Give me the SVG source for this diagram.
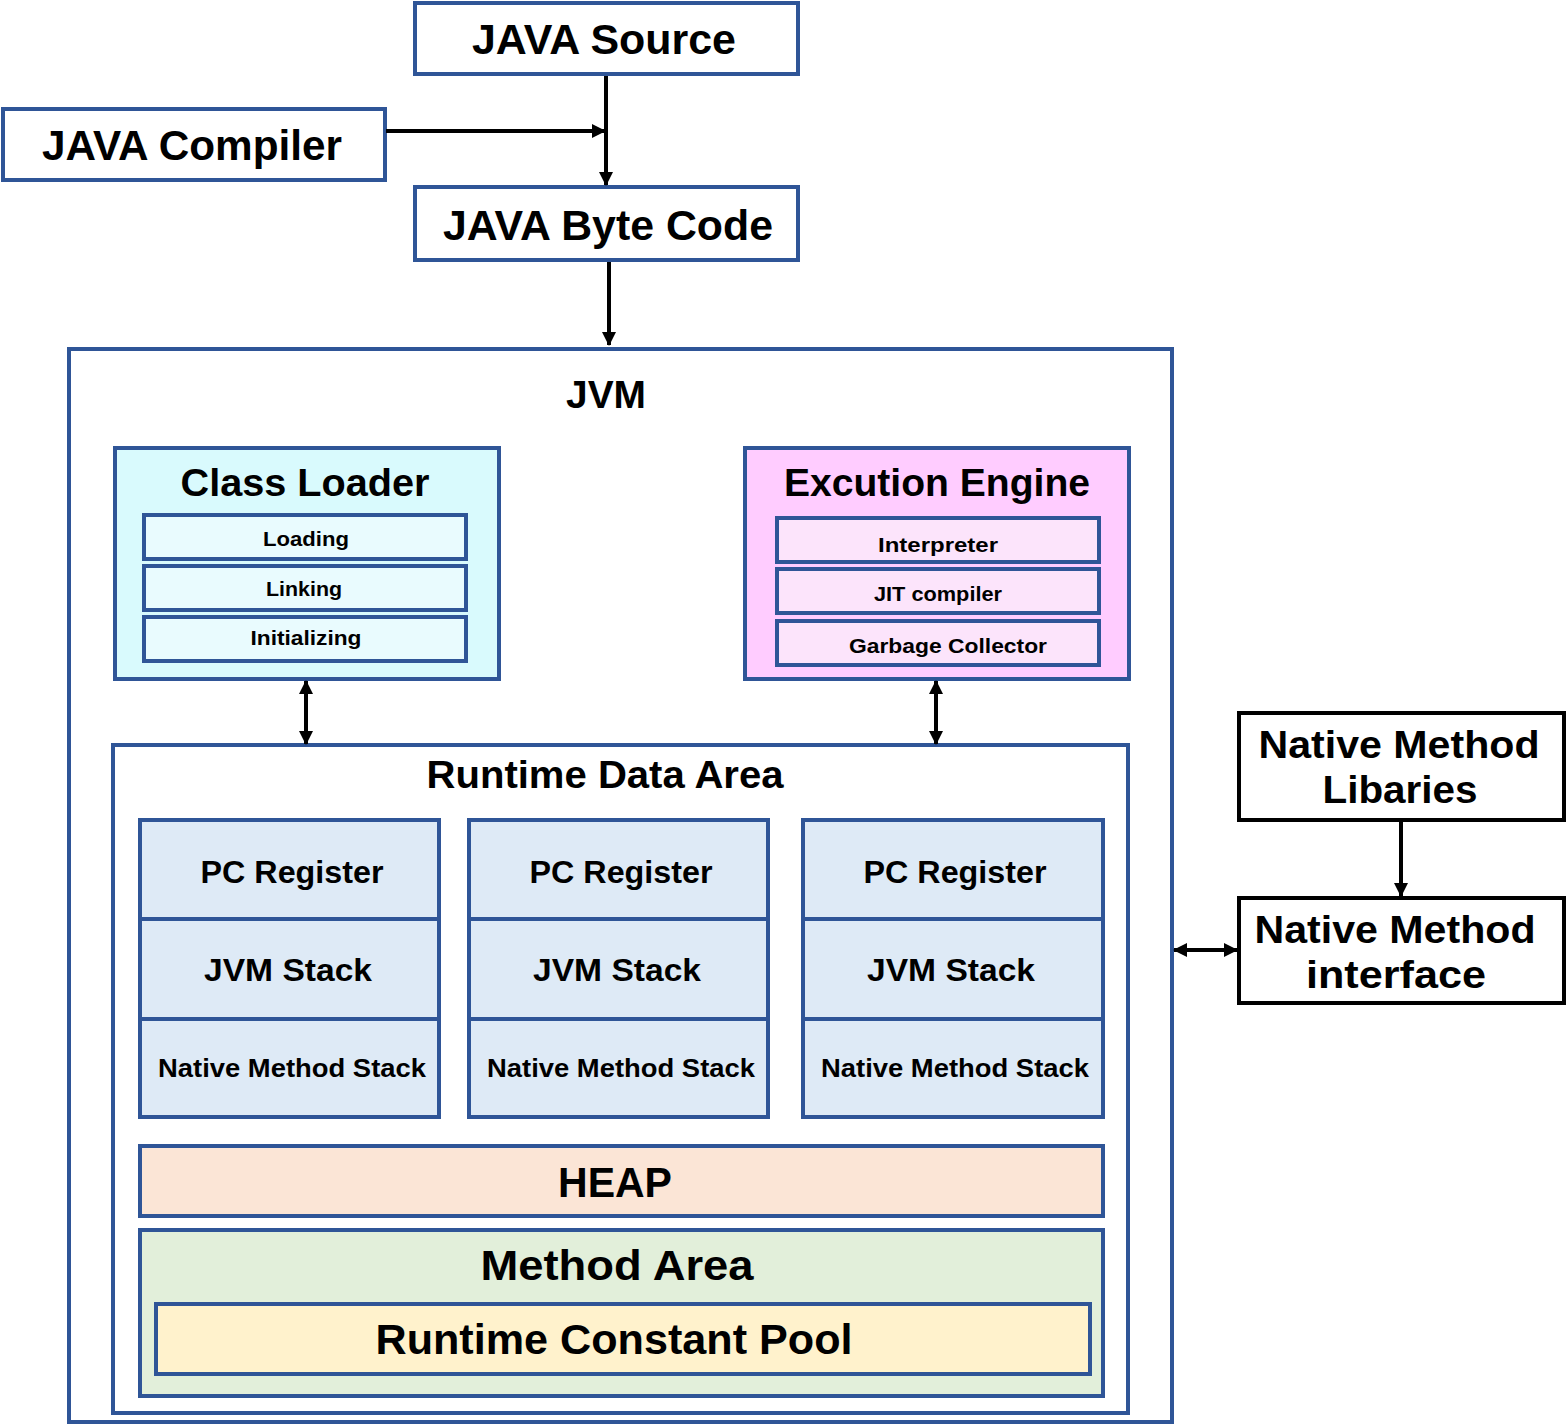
<svg xmlns="http://www.w3.org/2000/svg" width="1567" height="1426" viewBox="0 0 1567 1426">
<defs>
<style>
text{font-family:"Liberation Sans",Arial,sans-serif;font-weight:bold;fill:#000;text-anchor:middle}
.b{stroke:#2F5597;stroke-width:4}
.k{stroke:#000;stroke-width:4;fill:#fff}
.c{stroke:#000;stroke-width:4;fill:none}
.t40{font-size:42px}
.t38{font-size:39px}
.t30{font-size:31px}
.t25{font-size:26px}
.t20{font-size:21px}
</style>
<marker id="ah" viewBox="0 0 14 14" refX="13" refY="7" markerWidth="14" markerHeight="14" orient="auto-start-reverse" markerUnits="userSpaceOnUse">
<path d="M0,0 L14,7 L0,14 z" fill="#000"/>
</marker>
</defs>
<rect width="1567" height="1426" fill="#fff"/>

<g id="java-source">
<rect class="b" x="415" y="3" width="383" height="71" fill="#fff"/>
<text class="t40" x="604" y="54" textLength="264" lengthAdjust="spacingAndGlyphs">JAVA Source</text>
</g>
<g id="java-compiler">
<rect class="b" x="3" y="109" width="382" height="71" fill="#fff"/>
<text class="t40" x="192" y="160" textLength="300" lengthAdjust="spacingAndGlyphs">JAVA Compiler</text>
</g>
<g id="java-byte-code">
<rect class="b" x="415" y="187" width="383" height="73" fill="#fff"/>
<text class="t40" x="608" y="240" textLength="330" lengthAdjust="spacingAndGlyphs">JAVA Byte Code</text>
</g>

<g id="jvm">
<rect class="b" x="69" y="349" width="1103" height="1073" fill="#fff"/>
<text class="t38" x="606" y="408" textLength="80" lengthAdjust="spacingAndGlyphs">JVM</text>
</g>

<g id="class-loader">
<rect class="b" x="115" y="448" width="384" height="231" fill="#D9FAFD"/>
<text class="t38" x="305" y="496" textLength="249" lengthAdjust="spacingAndGlyphs">Class Loader</text>
<rect class="b" x="144" y="515" width="322" height="44" fill="#E9FBFE"/>
<text class="t20" x="306" y="546" textLength="86" lengthAdjust="spacingAndGlyphs">Loading</text>
<rect class="b" x="144" y="566" width="322" height="44" fill="#E9FBFE"/>
<text class="t20" x="304" y="596" textLength="76" lengthAdjust="spacingAndGlyphs">Linking</text>
<rect class="b" x="144" y="617" width="322" height="44" fill="#E9FBFE"/>
<text class="t20" x="306" y="645" textLength="111" lengthAdjust="spacingAndGlyphs">Initializing</text>
</g>

<g id="execution-engine">
<rect class="b" x="745" y="448" width="384" height="231" fill="#FFCCFF"/>
<text class="t38" x="937" y="496" textLength="306" lengthAdjust="spacingAndGlyphs">Excution Engine</text>
<rect class="b" x="777" y="518" width="322" height="44" fill="#FCE4FB"/>
<text class="t20" x="938" y="552" textLength="120" lengthAdjust="spacingAndGlyphs">Interpreter</text>
<rect class="b" x="777" y="569" width="322" height="44" fill="#FCE4FB"/>
<text class="t20" x="938" y="601" textLength="128" lengthAdjust="spacingAndGlyphs">JIT compiler</text>
<rect class="b" x="777" y="621" width="322" height="44" fill="#FCE4FB"/>
<text class="t20" x="948" y="653" textLength="198" lengthAdjust="spacingAndGlyphs">Garbage Collector</text>
</g>

<g id="runtime-data-area">
<rect class="b" x="113" y="745" width="1015" height="668" fill="#fff"/>
<text class="t38" x="605" y="788" textLength="357" lengthAdjust="spacingAndGlyphs">Runtime Data Area</text>
</g>

<g id="thread-1">
<rect class="b" x="140" y="820" width="299" height="99" fill="#DEEAF6"/>
<rect class="b" x="140" y="919" width="299" height="100" fill="#DEEAF6"/>
<rect class="b" x="140" y="1019" width="299" height="98" fill="#DEEAF6"/>
<text class="t30" x="292" y="883" textLength="183" lengthAdjust="spacingAndGlyphs">PC Register</text>
<text class="t30" x="288" y="981" textLength="168" lengthAdjust="spacingAndGlyphs">JVM Stack</text>
<text class="t25" x="292" y="1077" textLength="268" lengthAdjust="spacingAndGlyphs">Native Method Stack</text>
</g>
<g id="thread-2">
<rect class="b" x="469" y="820" width="299" height="99" fill="#DEEAF6"/>
<rect class="b" x="469" y="919" width="299" height="100" fill="#DEEAF6"/>
<rect class="b" x="469" y="1019" width="299" height="98" fill="#DEEAF6"/>
<text class="t30" x="621" y="883" textLength="183" lengthAdjust="spacingAndGlyphs">PC Register</text>
<text class="t30" x="617" y="981" textLength="168" lengthAdjust="spacingAndGlyphs">JVM Stack</text>
<text class="t25" x="621" y="1077" textLength="268" lengthAdjust="spacingAndGlyphs">Native Method Stack</text>
</g>
<g id="thread-3">
<rect class="b" x="803" y="820" width="300" height="99" fill="#DEEAF6"/>
<rect class="b" x="803" y="919" width="300" height="100" fill="#DEEAF6"/>
<rect class="b" x="803" y="1019" width="300" height="98" fill="#DEEAF6"/>
<text class="t30" x="955" y="883" textLength="183" lengthAdjust="spacingAndGlyphs">PC Register</text>
<text class="t30" x="951" y="981" textLength="168" lengthAdjust="spacingAndGlyphs">JVM Stack</text>
<text class="t25" x="955" y="1077" textLength="268" lengthAdjust="spacingAndGlyphs">Native Method Stack</text>
</g>

<g id="heap">
<rect class="b" x="140" y="1146" width="963" height="70" fill="#FBE5D6"/>
<text class="t40" x="615" y="1197" textLength="114" lengthAdjust="spacingAndGlyphs">HEAP</text>
</g>
<g id="method-area">
<rect class="b" x="140" y="1230" width="963" height="166" fill="#E2EFDA"/>
<text class="t40" x="617" y="1280" textLength="273" lengthAdjust="spacingAndGlyphs">Method Area</text>
</g>
<g id="runtime-constant-pool">
<rect class="b" x="156" y="1304" width="934" height="70" fill="#FFF2CC"/>
<text class="t40" x="614" y="1354" textLength="477" lengthAdjust="spacingAndGlyphs">Runtime Constant Pool</text>
</g>

<g id="native-method-libraries">
<rect class="k" x="1239" y="713" width="325" height="107"/>
<text class="t38" x="1399" y="758" textLength="281" lengthAdjust="spacingAndGlyphs">Native Method</text>
<text class="t38" x="1400" y="803" textLength="155" lengthAdjust="spacingAndGlyphs">Libaries</text>
</g>
<g id="native-method-interface">
<rect class="k" x="1239" y="898" width="325" height="105"/>
<text class="t38" x="1395" y="943" textLength="281" lengthAdjust="spacingAndGlyphs">Native Method</text>
<text class="t38" x="1396" y="988" textLength="180" lengthAdjust="spacingAndGlyphs">interface</text>
</g>

<g id="connectors">
<line class="c" x1="606" y1="76" x2="606" y2="185" marker-end="url(#ah)"/>
<line class="c" x1="386" y1="131" x2="605" y2="131" marker-end="url(#ah)"/>
<line class="c" x1="609" y1="262" x2="609" y2="345" marker-end="url(#ah)"/>
<line class="c" x1="306" y1="681" x2="306" y2="744" marker-start="url(#ah)" marker-end="url(#ah)"/>
<line class="c" x1="936" y1="681" x2="936" y2="744" marker-start="url(#ah)" marker-end="url(#ah)"/>
<line class="c" x1="1401" y1="822" x2="1401" y2="896" marker-end="url(#ah)"/>
<line class="c" x1="1174" y1="950" x2="1237" y2="950" marker-start="url(#ah)" marker-end="url(#ah)"/>
</g>
</svg>
